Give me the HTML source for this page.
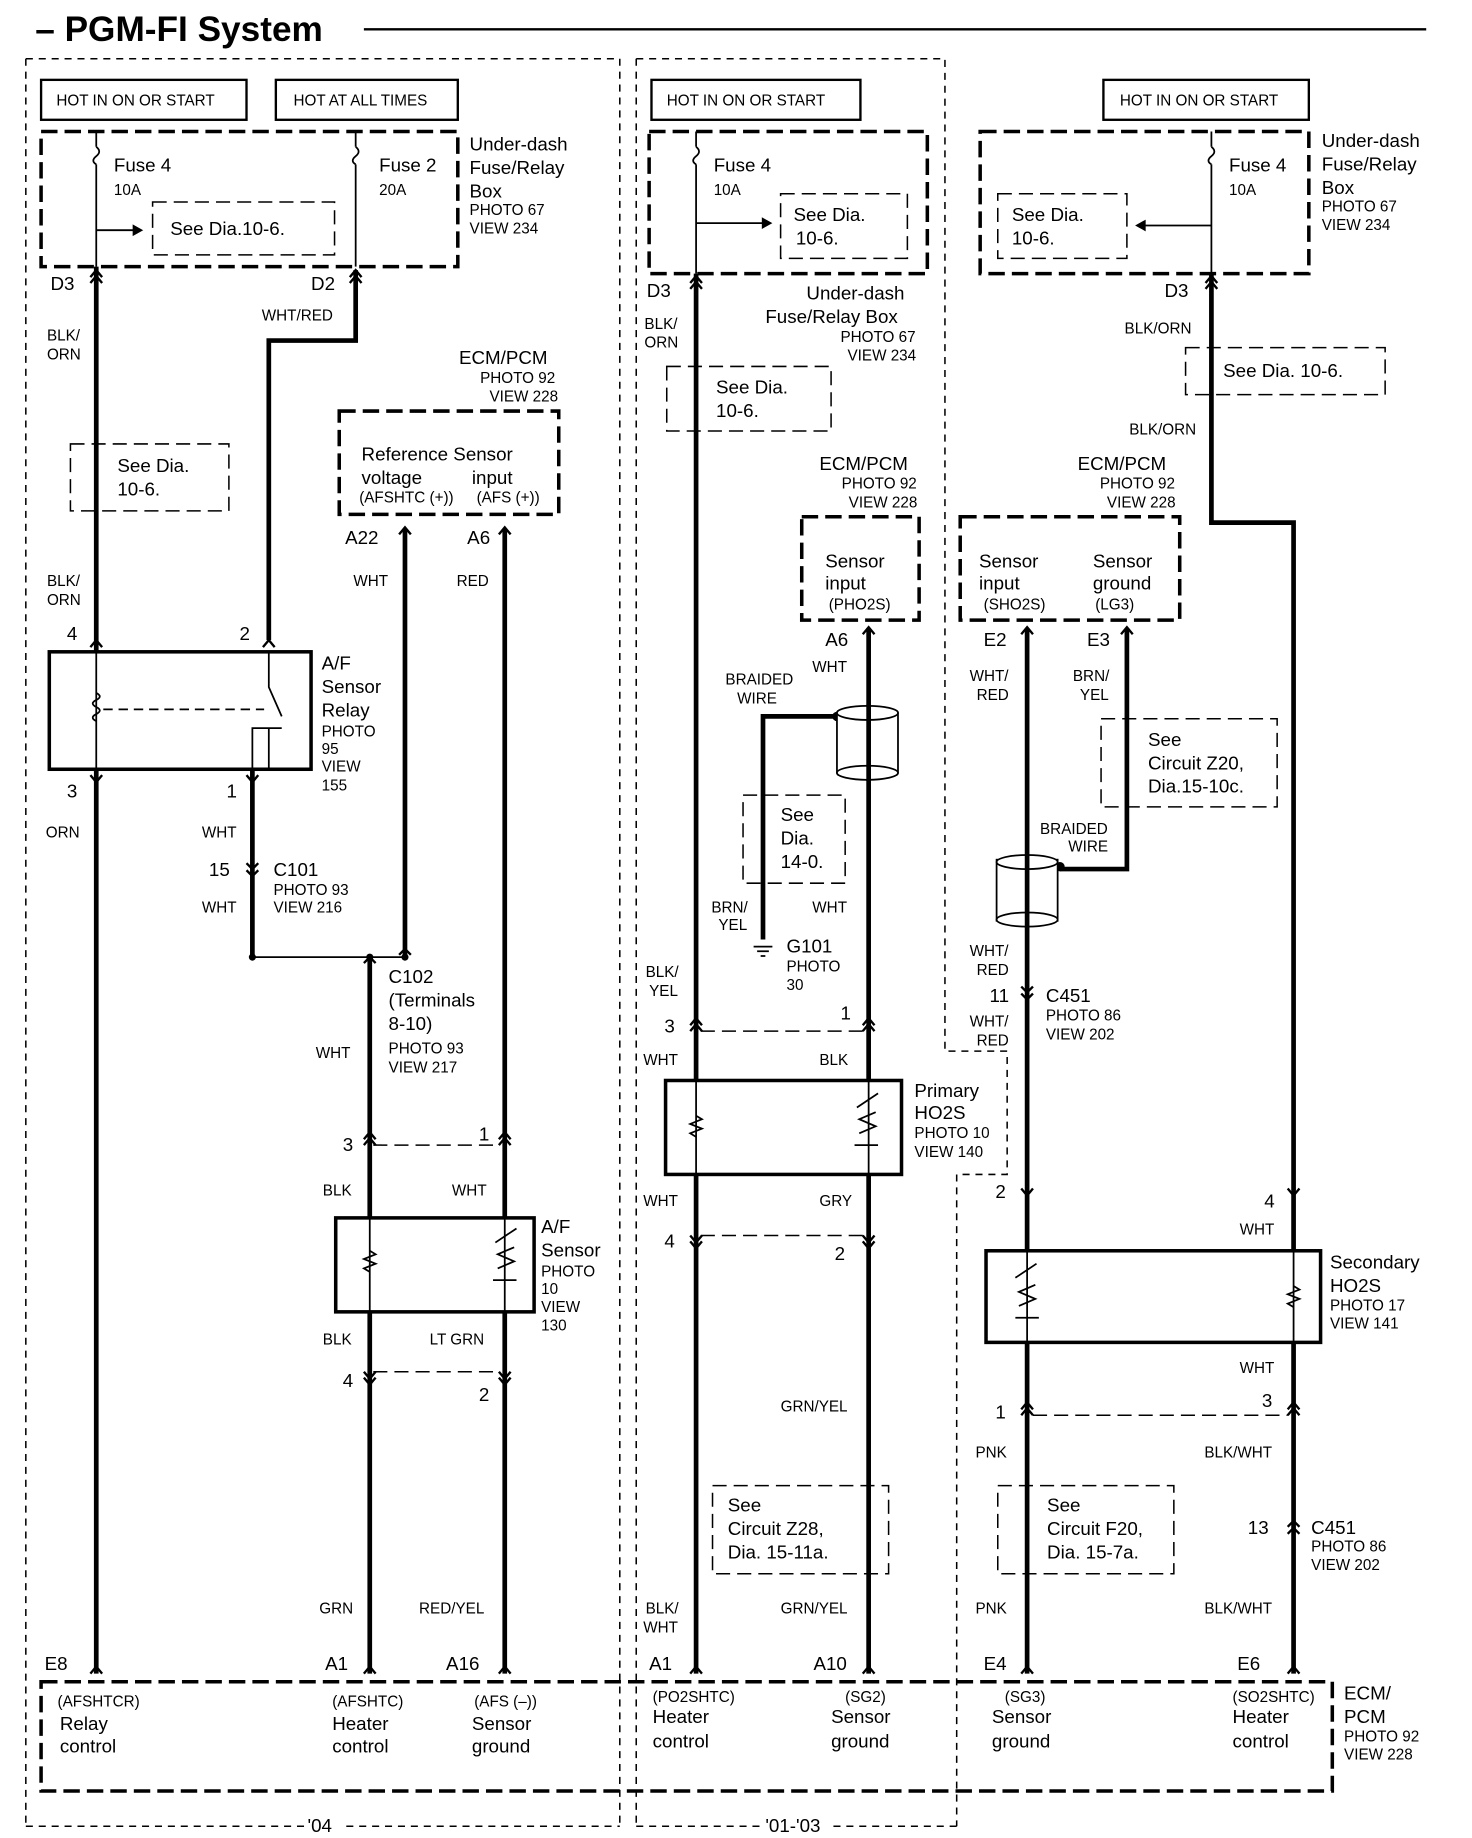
<!DOCTYPE html>
<html><head><meta charset="utf-8"><style>
html,body{margin:0;padding:0;background:#fff}
svg{display:block}
text{font-family:"Liberation Sans",Arial,sans-serif;fill:#000}
.s{font-size:13px}.m{font-size:16px}.l{font-size:18px}
</style></head><body>
<svg width="1472" height="1838" viewBox="0 0 1254 1565" preserveAspectRatio="none" xmlns="http://www.w3.org/2000/svg">
<g fill="none" stroke="#000">
<line x1="310" y1="25" x2="1215" y2="25" stroke-width="2"/>
<g stroke-width="1.3" stroke-dasharray="6 5">
<path d="M22 50 H528 V1555 M22 50 V1555"/>
<path d="M542 50 H805 V895 H858 V1000 H815 V1555 M542 50 V1555"/>
<path d="M22 1555 H260 M295 1555 H528 M542 1555 H650 M710 1555 H815"/>
</g>
<g stroke-width="2">
<rect x="35" y="68" width="175" height="34"/><rect x="235" y="68" width="155" height="34"/>
<rect x="555" y="68" width="178" height="34"/><rect x="940" y="68" width="175" height="34"/>
</g>
<g stroke-width="3" stroke-dasharray="14 6">
<rect x="35" y="112" width="355" height="115"/>
<rect x="553" y="112" width="237" height="121"/>
<rect x="835" y="112" width="280" height="121"/>
<rect x="289" y="350" width="187" height="88"/>
<rect x="683" y="440" width="100" height="88"/>
<rect x="818" y="440" width="187" height="88"/>
<rect x="35" y="1432" width="1100" height="93"/>
</g>
<g stroke-width="1.3" stroke-dasharray="12 6">
<rect x="130" y="172" width="155" height="45"/>
<rect x="665" y="165" width="108" height="55"/>
<rect x="850" y="165" width="110" height="55"/>
<rect x="60" y="378" width="135" height="57"/>
<rect x="568" y="312" width="140" height="55"/>
<rect x="1010" y="296" width="170" height="40"/>
<rect x="633" y="677" width="87" height="75"/>
<rect x="938" y="612" width="150" height="75"/>
<rect x="607" y="1265" width="150" height="75"/>
<rect x="850" y="1265" width="150" height="75"/>
<line x1="318" y1="975" x2="425" y2="975"/><line x1="318" y1="1168" x2="425" y2="1168"/>
<line x1="597" y1="878" x2="735" y2="878"/><line x1="597" y1="1052" x2="735" y2="1052"/>
<line x1="880" y1="1205" x2="1097" y2="1205"/>
</g>
<g stroke-width="1.5">
<path d="M82 112 V125 M82 140 V227 M303 112 V125 M303 140 V227 M593 112 V125 M593 140 V233 M1032 112 V125 M1032 140 V233"/>
<path d="M82 125 q5 4 0 8 q-5 4 0 7 M303 125 q5 4 0 8 q-5 4 0 7 M593 125 q5 4 0 8 q-5 4 0 7 M1032 125 q5 4 0 8 q-5 4 0 7"/>
<path d="M82 196 H115 M593 190 H650 M1032 192 H975"/>
</g>
<g fill="#000" stroke="none">
<path d="M122 196 l-9 -5 v10z"/><path d="M658 190 l-9 -5 v10z"/><path d="M967 192 l9 -5 v10z"/>
</g>
<g stroke-width="4">
<path d="M82 227 V1425"/>
<path d="M303 230 V290 H229 V545"/>
<path d="M215 655 V815"/>
<path d="M345 450 V815"/>
<path d="M315 815 V1425"/>
<path d="M430 450 V1425"/>
<path d="M593 233 V1425"/>
<path d="M740 535 V1425"/>
<path d="M713 610 H650 V800"/>
<path d="M875 535 V1425"/>
<path d="M960 535 V740 H903"/>
<path d="M1032 233 V445 H1102 V1425"/>
</g>
<line x1="215" y1="815" x2="345" y2="815" stroke-width="1.5"/>
<g fill="#000" stroke="none"><circle cx="215" cy="815" r="3"/><circle cx="315" cy="815" r="3"/><circle cx="345" cy="815" r="3"/><circle cx="713" cy="610" r="4"/><circle cx="903" cy="738" r="4"/></g>
<path d="M642 806 H658 M645 810 H655 M648 814 H652" stroke-width="1.5"/>
<g stroke-width="1.5" fill="#fff">
<rect x="713" y="605" width="52" height="55" rx="2"/>
<ellipse cx="739" cy="607" rx="26" ry="6"/><ellipse cx="739" cy="658" rx="26" ry="6"/>
<rect x="849" y="732" width="52" height="52"/>
<ellipse cx="875" cy="734" rx="26" ry="6"/><ellipse cx="875" cy="783" rx="26" ry="6"/>
</g>
<line x1="740" y1="600" x2="740" y2="665" stroke-width="4"/><line x1="875" y1="728" x2="875" y2="790" stroke-width="4"/>
<rect x="42" y="555" width="223" height="100" stroke-width="3" fill="#fff"/>
<g stroke-width="1.5">
<path d="M82 555 V655 M229 555 V585 L240 610 M229 620 V655 M215 655 V620 H240"/>
<path d="M82 590 q6 3 0 6 q-6 3 0 6 q6 3 0 6 q-6 3 0 6"/>
<path d="M88 604 H225" stroke-dasharray="8 5"/>
</g>
<g stroke-width="3" fill="#fff">
<rect x="286" y="1037" width="169" height="80"/>
<rect x="567" y="920" width="201" height="80"/>
<rect x="840" y="1065" width="285" height="78"/>
</g>
<g stroke-width="1.5">
<path d="M315 1037 V1117 M430 1037 V1117 M593 920 V1000 M740 920 V1000 M875 1065 V1143 M1102 1065 V1143"/>
<path d="M315 1065 l5 3 l-10 4 l10 4 l-10 4 l5 3 M593 950 l5 3 l-10 4 l10 4 l-10 4 l5 3 M1102 1095 l5 3 l-10 4 l10 4 l-10 4 l5 3"/>
<path d="M422 1058 l18 -12 M420 1090 h20 M424 1080 l14 -6 l-14 -6 l14 -6 M730 943 l18 -12 M728 975 h20 M732 965 l14 -6 l-14 -6 l14 -6 M865 1088 l18 -12 M865 1122 h20 M868 1112 l14 -6 l-14 -6 l14 -6"/>
</g>
<g stroke-width="2">
<path d="M77 241 l5 -6 l5 6 M77 236 l5 -6 l5 6 M298 241 l5 -6 l5 6 M298 236 l5 -6 l5 6 M588 246 l5 -6 l5 6 M588 241 l5 -6 l5 6 M1027 246 l5 -6 l5 6 M1027 241 l5 -6 l5 6"/>
<path d="M77 551 l5 -6 l5 6 M224 551 l5 -6 l5 6 M77 660 l5 6 l5 -6 M210 660 l5 6 l5 -6"/>
<path d="M210 735 l5 5 l5 -5 M210 741 l5 5 l5 -5 M340 813 l5 -5 l5 5 M310 820 l5 -5 l5 5"/>
<path d="M310 975 l5 -6 l5 6 M310 970 l5 -6 l5 6 M425 975 l5 -6 l5 6 M425 970 l5 -6 l5 6 M310 1168 l5 6 l5 -6 M310 1173 l5 6 l5 -6 M425 1168 l5 6 l5 -6 M425 1173 l5 6 l5 -6"/>
<path d="M588 878 l5 -6 l5 6 M588 873 l5 -6 l5 6 M735 878 l5 -6 l5 6 M735 873 l5 -6 l5 6 M588 1052 l5 6 l5 -6 M588 1057 l5 6 l5 -6 M735 1052 l5 6 l5 -6 M735 1057 l5 6 l5 -6"/>
<path d="M870 840 l5 5 l5 -5 M870 846 l5 5 l5 -5 M870 1012 l5 6 l5 -6 M1097 1012 l5 6 l5 -6 M870 1205 l5 -6 l5 6 M870 1200 l5 -6 l5 6 M1097 1205 l5 -6 l5 6 M1097 1200 l5 -6 l5 6 M1097 1300 l5 -5 l5 5 M1097 1306 l5 -5 l5 5"/>
<path d="M735 540 l5 -6 l5 6 M870 540 l5 -6 l5 6 M955 540 l5 -6 l5 6 M340 455 l5 -6 l5 6 M425 455 l5 -6 l5 6"/>
<path d="M77 1425 l5 -6 l5 6 M310 1425 l5 -6 l5 6 M425 1425 l5 -6 l5 6 M588 1425 l5 -6 l5 6 M735 1425 l5 -6 l5 6 M870 1425 l5 -6 l5 6 M1097 1425 l5 -6 l5 6"/>
</g>
</g>
<text x="30" y="35" font-size="30" font-weight="bold">– PGM-FI System</text>
<g class="s">
<text x="48" y="90">HOT IN ON OR START</text><text x="250" y="90">HOT AT ALL TIMES</text>
<text x="568" y="90">HOT IN ON OR START</text><text x="954" y="90">HOT IN ON OR START</text>
</g>
<g class="m">
<text x="97" y="146">Fuse 4</text><text x="323" y="146">Fuse 2</text><text x="608" y="146">Fuse 4</text><text x="1047" y="146">Fuse 4</text>
<text x="145" y="200">See Dia.10-6.</text>
<text x="676" y="188">See Dia.</text><text x="678" y="208">10-6.</text>
<text x="862" y="188">See Dia.</text><text x="862" y="208">10-6.</text>
<text x="400" y="128">Under-dash</text><text x="400" y="148">Fuse/Relay</text><text x="400" y="168">Box</text>
<text x="1126" y="125">Under-dash</text><text x="1126" y="145">Fuse/Relay</text><text x="1126" y="165">Box</text>
<text x="687" y="255">Under-dash</text><text x="652" y="275">Fuse/Relay Box</text>
<text x="43" y="247">D3</text><text x="265" y="247">D2</text><text x="551" y="253">D3</text><text x="992" y="253">D3</text>
<text x="100" y="402">See Dia.</text><text x="100" y="422">10-6.</text>
<text x="610" y="335">See Dia.</text><text x="610" y="355">10-6.</text>
<text x="1042" y="321">See Dia. 10-6.</text>
<text x="391" y="310">ECM/PCM</text><text x="698" y="400">ECM/PCM</text><text x="918" y="400">ECM/PCM</text>
<text x="308" y="392">Reference Sensor</text><text x="308" y="412">voltage</text><text x="402" y="412">input</text>
<text x="703" y="483">Sensor</text><text x="703" y="502">input</text>
<text x="834" y="483">Sensor</text><text x="931" y="483">Sensor</text>
<text x="834" y="502">input</text><text x="931" y="502">ground</text>
<text x="294" y="463">A22</text><text x="398" y="463">A6</text><text x="703" y="550">A6</text>
<text x="838" y="550">E2</text><text x="926" y="550">E3</text>
<text x="57" y="545">4</text><text x="204" y="545">2</text><text x="57" y="679">3</text><text x="193" y="679">1</text>
<text x="274" y="570">A/F</text><text x="274" y="590">Sensor</text><text x="274" y="610">Relay</text>
<text x="178" y="746">15</text><text x="233" y="746">C101</text>
<text x="331" y="837">C102</text><text x="331" y="857">(Terminals</text><text x="331" y="877">8-10)</text>
<text x="292" y="980">3</text><text x="408" y="971">1</text><text x="292" y="1181">4</text><text x="408" y="1193">2</text>
<text x="461" y="1050">A/F</text><text x="461" y="1070">Sensor</text>
<text x="978" y="635">See</text><text x="978" y="655">Circuit Z20,</text><text x="978" y="675">Dia.15-10c.</text>
<text x="665" y="699">See</text><text x="665" y="719">Dia.</text><text x="665" y="739">14-0.</text>
<text x="670" y="811">G101</text>
<text x="566" y="879">3</text><text x="716" y="868">1</text><text x="566" y="1062">4</text><text x="711" y="1073">2</text>
<text x="779" y="934">Primary</text><text x="779" y="953">HO2S</text>
<text x="843" y="853">11</text><text x="891" y="853">C451</text>
<text x="848" y="1020">2</text><text x="1077" y="1028">4</text>
<text x="1133" y="1080">Secondary</text><text x="1133" y="1100">HO2S</text>
<text x="848" y="1208">1</text><text x="1075" y="1198">3</text>
<text x="1063" y="1306">13</text><text x="1117" y="1306">C451</text>
<text x="620" y="1287">See</text><text x="620" y="1307">Circuit Z28,</text><text x="620" y="1327">Dia. 15-11a.</text>
<text x="892" y="1287">See</text><text x="892" y="1307">Circuit F20,</text><text x="892" y="1327">Dia. 15-7a.</text>
<text x="38" y="1422">E8</text><text x="277" y="1422">A1</text><text x="380" y="1422">A16</text>
<text x="553" y="1422">A1</text><text x="693" y="1422">A10</text><text x="838" y="1422">E4</text><text x="1054" y="1422">E6</text>
<text x="1145" y="1447">ECM/</text><text x="1145" y="1467">PCM</text>
<text x="51" y="1473">Relay</text><text x="51" y="1492">control</text>
<text x="283" y="1473">Heater</text><text x="283" y="1492">control</text>
<text x="402" y="1473">Sensor</text><text x="402" y="1492">ground</text>
<text x="556" y="1467">Heater</text><text x="556" y="1488">control</text>
<text x="708" y="1467">Sensor</text><text x="708" y="1488">ground</text>
<text x="845" y="1467">Sensor</text><text x="845" y="1488">ground</text>
<text x="1050" y="1467">Heater</text><text x="1050" y="1488">control</text>
<text x="262" y="1560">'04</text><text x="652" y="1560">'01-'03</text>
</g>
<g class="s">
<text x="97" y="166">10A</text><text x="323" y="166">20A</text><text x="608" y="166">10A</text><text x="1047" y="166">10A</text>
<text x="400" y="183">PHOTO 67</text><text x="400" y="199">VIEW 234</text>
<text x="1126" y="180">PHOTO 67</text><text x="1126" y="196">VIEW 234</text>
<text x="716" y="291">PHOTO 67</text><text x="722" y="307">VIEW 234</text>
<text x="40" y="290">BLK/</text><text x="40" y="306">ORN</text>
<text x="223" y="273">WHT/RED</text>
<text x="549" y="280">BLK/</text><text x="549" y="296">ORN</text>
<text x="958" y="284">BLK/ORN</text><text x="962" y="370">BLK/ORN</text>
<text x="409" y="326">PHOTO 92</text><text x="417" y="342">VIEW 228</text>
<text x="717" y="416">PHOTO 92</text><text x="723" y="432">VIEW 228</text>
<text x="937" y="416">PHOTO 92</text><text x="943" y="432">VIEW 228</text>
<text x="306" y="428">(AFSHTC (+))</text><text x="406" y="428">(AFS (+))</text>
<text x="706" y="519">(PHO2S)</text><text x="838" y="519">(SHO2S)</text><text x="933" y="519">(LG3)</text>
<text x="301" y="499">WHT</text><text x="389" y="499">RED</text>
<text x="40" y="499">BLK/</text><text x="40" y="515">ORN</text>
<text x="692" y="572">WHT</text>
<text x="618" y="583">BRAIDED</text><text x="628" y="599">WIRE</text>
<text x="826" y="580">WHT/</text><text x="832" y="596">RED</text>
<text x="914" y="580">BRN/</text><text x="920" y="596">YEL</text>
<text x="274" y="627">PHOTO</text><text x="274" y="642">95</text><text x="274" y="657">VIEW</text><text x="274" y="673">155</text>
<text x="39" y="713">ORN</text><text x="172" y="713">WHT</text><text x="172" y="777">WHT</text>
<text x="233" y="762">PHOTO 93</text><text x="233" y="777">VIEW 216</text>
<text x="886" y="710">BRAIDED</text><text x="910" y="725">WIRE</text>
<text x="606" y="777">BRN/</text><text x="612" y="792">YEL</text><text x="692" y="777">WHT</text>
<text x="670" y="827">PHOTO</text><text x="670" y="843">30</text>
<text x="550" y="832">BLK/</text><text x="553" y="848">YEL</text>
<text x="826" y="814">WHT/</text><text x="832" y="830">RED</text>
<text x="826" y="874">WHT/</text><text x="832" y="890">RED</text>
<text x="891" y="869">PHOTO 86</text><text x="891" y="885">VIEW 202</text>
<text x="269" y="901">WHT</text><text x="331" y="897">PHOTO 93</text><text x="331" y="913">VIEW 217</text>
<text x="548" y="907">WHT</text><text x="698" y="907">BLK</text>
<text x="779" y="969">PHOTO 10</text><text x="779" y="985">VIEW 140</text>
<text x="275" y="1018">BLK</text><text x="385" y="1018">WHT</text>
<text x="548" y="1027">WHT</text><text x="698" y="1027">GRY</text><text x="1056" y="1051">WHT</text>
<text x="461" y="1087">PHOTO</text><text x="461" y="1102">10</text><text x="461" y="1117">VIEW</text><text x="461" y="1133">130</text>
<text x="1133" y="1116">PHOTO 17</text><text x="1133" y="1131">VIEW 141</text>
<text x="275" y="1145">BLK</text><text x="366" y="1145">LT GRN</text>
<text x="1056" y="1169">WHT</text><text x="665" y="1202">GRN/YEL</text>
<text x="831" y="1241">PNK</text><text x="1026" y="1241">BLK/WHT</text>
<text x="1117" y="1321">PHOTO 86</text><text x="1117" y="1337">VIEW 202</text>
<text x="272" y="1374">GRN</text><text x="357" y="1374">RED/YEL</text>
<text x="550" y="1374">BLK/</text><text x="548" y="1390">WHT</text><text x="665" y="1374">GRN/YEL</text>
<text x="831" y="1374">PNK</text><text x="1026" y="1374">BLK/WHT</text>
<text x="49" y="1453">(AFSHTCR)</text><text x="283" y="1453">(AFSHTC)</text><text x="404" y="1453">(AFS (–))</text>
<text x="556" y="1449">(PO2SHTC)</text><text x="720" y="1449">(SG2)</text><text x="856" y="1449">(SG3)</text><text x="1050" y="1449">(SO2SHTC)</text>
<text x="1145" y="1483">PHOTO 92</text><text x="1145" y="1498">VIEW 228</text>
</g>
</svg>
</body></html>
